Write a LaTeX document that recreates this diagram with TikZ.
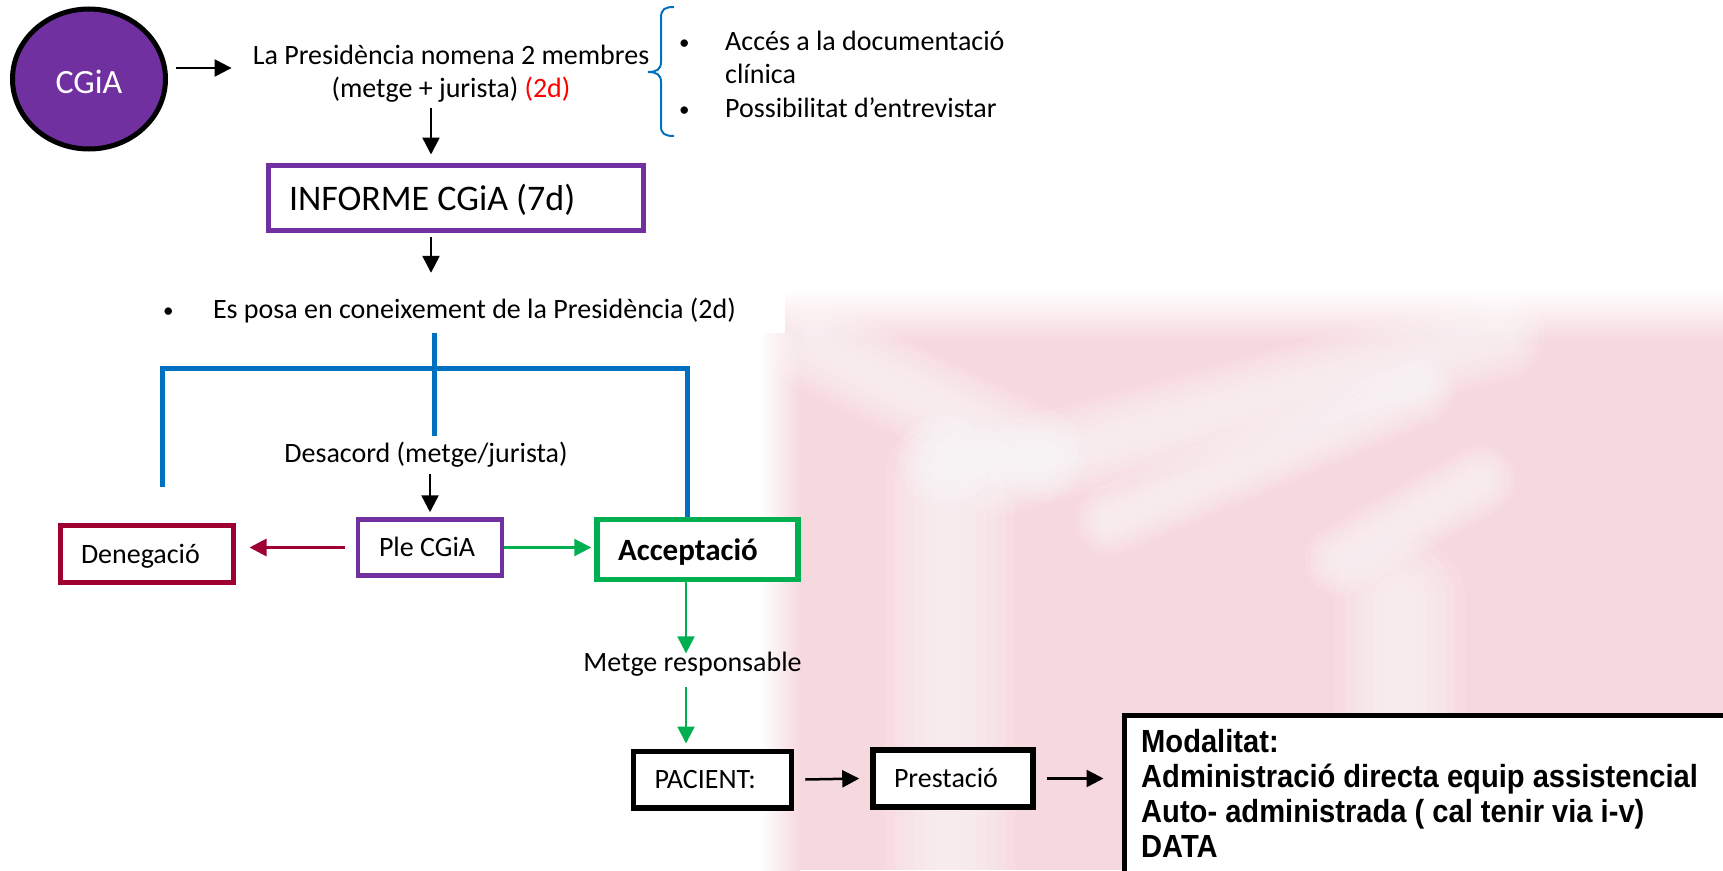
\documentclass[tikz,border=0pt]{standalone}
\usepackage{fontspec}
\setmainfont{Carlito}
\newfontfamily\modfont[FakeStretch=0.91]{Liberation Sans Bold}
\usetikzlibrary{arrows.meta,shapes.geometric}

\definecolor{cgpurple}{RGB}{112,48,160}
\definecolor{cgblue}{RGB}{0,112,192}
\definecolor{cggreen}{RGB}{0,176,80}
\definecolor{cgred}{RGB}{158,0,50}
\definecolor{wmpink}{RGB}{246,217,222}

\newcommand{\txtfont}{\fontsize{28pt}{33.5pt}\selectfont}
\newcommand{\smallbullet}{\raisebox{1pt}{\fontsize{21pt}{21pt}\selectfont •}}
% soft white streak of the faded logo: width, from, to
\newcommand{\softstroke}[3]{%
    \foreach \f in {1.0,0.85,0.7,0.55,0.4,0.25}
        {\draw[white,opacity=0.12,line cap=round,line width=\f*#1] #2 -- #3;}}

\begin{document}
\begin{tikzpicture}[x=1pt,y=-1pt,
    arr/.style={line width=2.5pt,-{Triangle[length=17pt,width=17pt]}},
    greenarr/.style={arr,line width=2.2pt,draw=cggreen},
    redarr/.style={arr,line width=3pt,draw=cgred},
    blueline/.style={line width=5pt,draw=cgblue},
    txt/.style={inner sep=0pt,font=\txtfont},
    flowbox/.style={draw,line width=5pt,fill=white,inner xsep=21pt,inner ysep=0pt,
        align=flush left,font=\txtfont,text height=22pt,text depth=4pt}]
    \useasboundingbox (0,0) rectangle (1723,870);

    \coordinate (colx) at (431,0);
    \coordinate (gx) at (686,0);
    \coordinate (bl) at (162,487);
    \coordinate (bt) at (162,368);
    \coordinate (br) at (687,368);
    \coordinate (bm) at (434,436);

    % faded logo behind
    \begin{scope}
        \clip (760,290) rectangle (1723,870);
        \fill[wmpink] (800,340) rectangle (1723,870);
        \shade[top color=white,bottom color=wmpink] (785,290) rectangle (1723,340);
        \shade[left color=white,right color=wmpink] (760,333) rectangle (800,870);
        \softstroke{90pt}{(815,345)}{(1040,455)}
        \softstroke{90pt}{(1000,470)}{(1500,335)}
        \softstroke{70pt}{(1110,520)}{(1420,390)}
        \softstroke{130pt}{(950,480)}{(950,900)}
        \softstroke{130pt}{(1400,600)}{(1400,740)}
        \softstroke{70pt}{(1340,560)}{(1480,480)}
        \softstroke{90pt}{(944,461)}{(944,462)}
    \end{scope}

    \node[ellipse,draw=black,line width=5pt,fill=cgpurple,text=white,
        minimum width=153pt,minimum height=140pt,inner sep=0pt,
        font=\fontsize{34pt}{40pt}\selectfont,text height=28pt,text depth=0pt] (cgia) at (89,79) {CGiA};
    \node[txt,anchor=base] (pres) at (451,64)
        {\begin{tabular}[t]{@{}c@{}}La Presidència nomena 2 membres\\(metge + jurista) {\color{red}(2d)}\end{tabular}};
    \node[txt,anchor=base west] (det) at (679,50)
        {\begin{tabular}[t]{@{}l@{}}\makebox[46pt][l]{\smallbullet}Accés a la documentació\\\makebox[46pt][l]{}clínica\\\makebox[46pt][l]{\smallbullet}Possibilitat d’entrevistar\end{tabular}};
    \draw[cgblue,line width=2pt] (674,7) .. controls (665,7) and (661,9) .. (661,18) -- (661,62)
        .. controls (661,69) and (657,72) .. (648,72) .. controls (657,72) and (661,75) .. (661,82)
        -- (661,126) .. controls (661,134) and (665,136) .. (674,136);

    \node[flowbox,draw=cgpurple,minimum width=375pt,minimum height=65pt,text width=333pt,
        font=\fontsize{36pt}{40pt}\selectfont,text height=29pt] (informe) at (455.5,197.5) {INFORME CGiA (7d)};
    \node[fill=white,inner xsep=13pt,inner ysep=0pt,minimum width=634pt,minimum height=53pt,
        text width=608pt,align=flush left,font=\txtfont,text height=27pt,text depth=4pt] (espr) at (467,306.5)
        {\makebox[50pt][l]{\smallbullet}Es posa en coneixement de la Presidència (2d)};

    \node[txt,anchor=base] (desa) at (426,462) {Desacord (metge/jurista)};
    \node[flowbox,draw=cgpurple,line width=4.5pt,minimum width=144pt,minimum height=56pt,text width=102pt] (ple) at (430,547.5) {Ple CGiA};
    \node[flowbox,draw=cgred,minimum width=173pt,minimum height=56.5pt,text width=131pt] (den) at (146.5,554) {Denegació};
    \node[flowbox,draw=cggreen,line width=5.5pt,minimum width=201pt,minimum height=60pt,text width=159pt,
        font=\bfseries\fontsize{31pt}{36pt}\selectfont,text height=25pt] (acc) at (697.5,549.5) {Acceptació};
    \node[txt,anchor=base] (metge) at (692.5,671) {Metge responsable};
    \node[flowbox,line width=5.5pt,minimum width=158pt,minimum height=56.5pt,text width=116pt] (pac) at (712.5,779.5) {PACIENT:};
    \node[flowbox,line width=5.5pt,minimum width=160pt,minimum height=57pt,text width=118pt] (prest) at (953,778.5) {Prestació};
    \node[draw,line width=5pt,fill=white,anchor=north west,minimum width=700pt,minimum height=250pt,inner sep=0pt] (modal) at (1121.5,712.5) {};
    \node[anchor=base west,inner sep=0pt,font=\modfont\fontsize{32pt}{35pt}\selectfont] (modtxt) at (1141,752)
        {\begin{tabular}[t]{@{}l@{}}Modalitat:\\Administració directa equip assistencial\\Auto- administrada ( cal tenir via i-v)\\DATA\end{tabular}};

    % connectors
    \draw[arr] ([xshift=8pt,yshift=11pt]cgia.east) -- ([xshift=-21pt,yshift=-4pt]pres.base west);
    \draw[arr] (pres.south -| colx) -- ([yshift=8pt]informe.north -| colx);
    \draw[arr] ([yshift=-4pt]informe.south -| colx) -- ([yshift=7pt]espr.north -| colx);
    \draw[blueline] (espr.south -| bm) -- (bm);
    \draw[blueline] (bl) -- (bt) -- (br) -- (br |- acc.north);
    \draw[arr] ([yshift=-7pt]desa.south -| ple.north) -- ([yshift=5pt]ple.north);
    \draw[redarr] ([xshift=-11pt]ple.west) -- ([xshift=14pt]den.east |- ple.west);
    \draw[greenarr] (ple.east) -- ([xshift=-3pt]acc.west |- ple.east);
    \draw[greenarr] (acc.south -| gx) -- ([yshift=-2pt]metge.north -| gx);
    \draw[greenarr] ([yshift=-11pt]metge.south -| gx) -- ([yshift=5pt]pac.north -| gx);
    \draw[arr] ([xshift=11pt]pac.east) -- ([xshift=-11pt]prest.west);
    \draw[arr] ([xshift=11pt]prest.east) -- ([xshift=-18pt]modal.west |- prest.east);
\end{tikzpicture}
\end{document}
